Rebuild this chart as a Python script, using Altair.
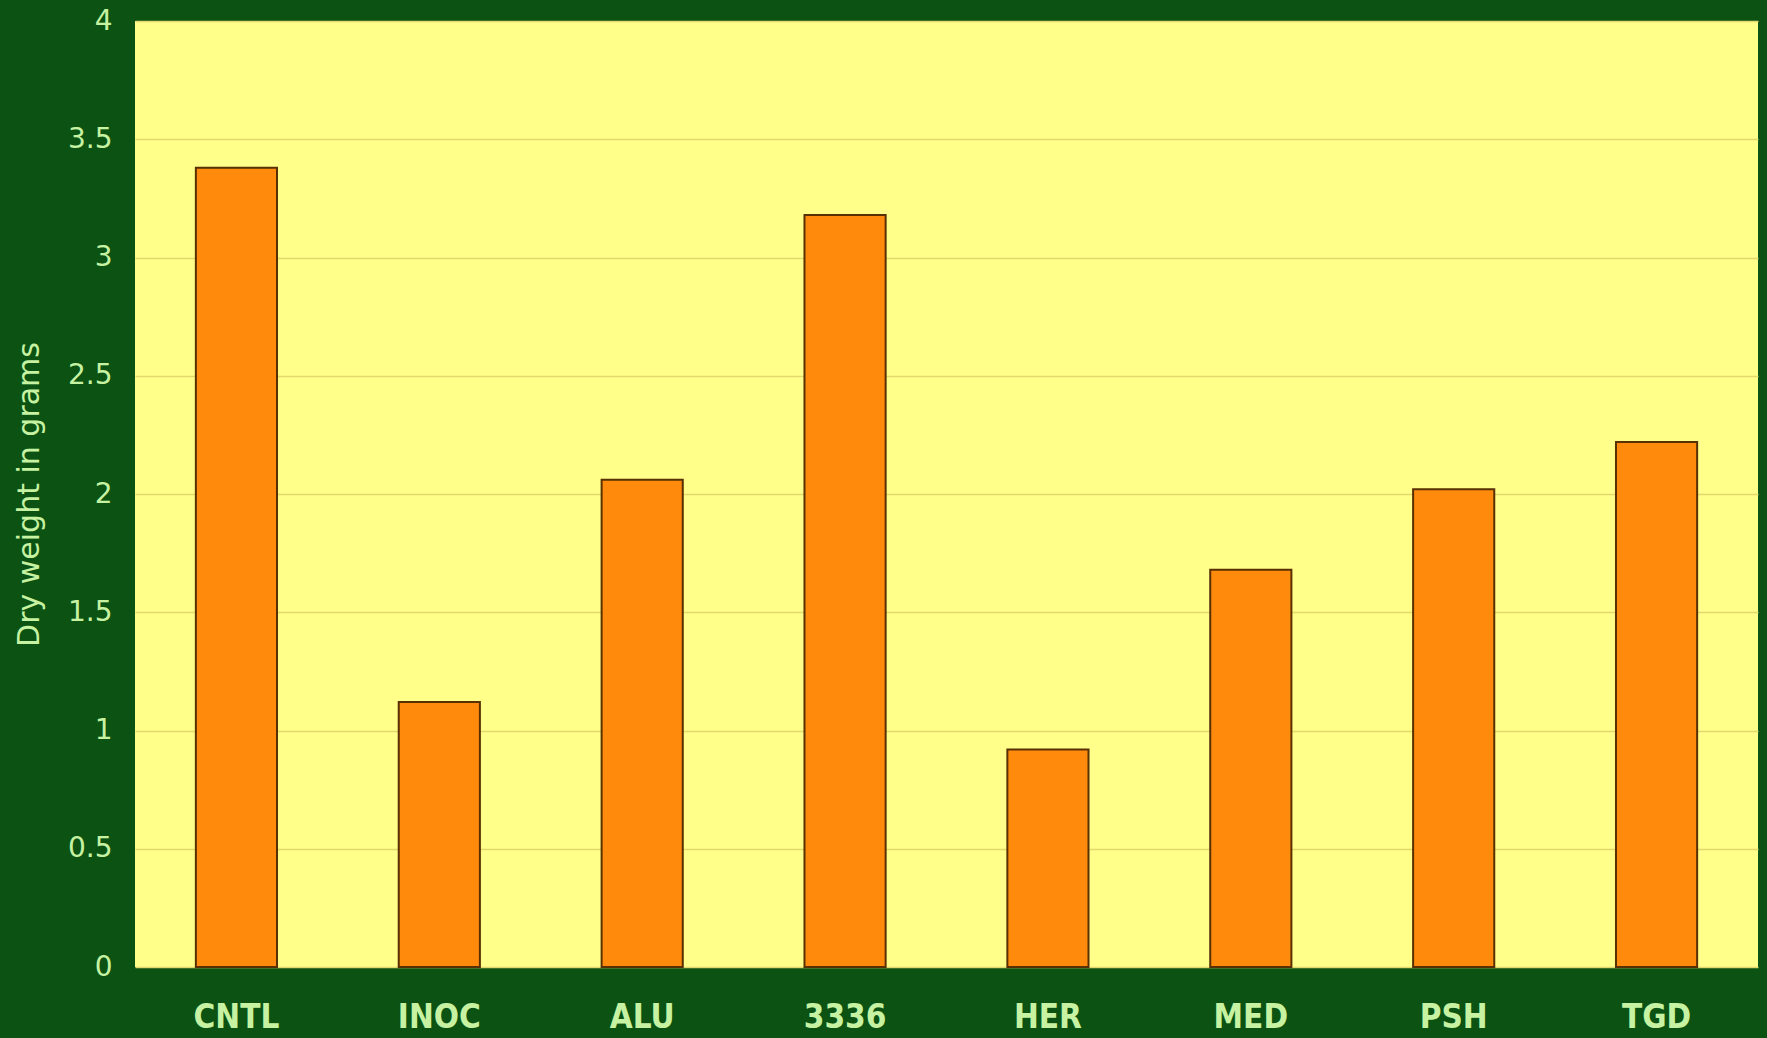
import altair as alt
import pandas as pd

# Dry weight per treatment
treatments = ["CNTL", "INOC", "ALU", "3336", "HER", "MED", "PSH", "TGD"]
dry_weight = [3.38, 1.12, 2.06, 3.18, 0.92, 1.68, 2.02, 2.22]
y_ticks = [0, 0.5, 1, 1.5, 2, 2.5, 3, 3.5, 4]

df = pd.DataFrame({"treatment": treatments, "weight": dry_weight})

BG = "#0b5213"
PLOT = "#ffff8a"
TEXT = "#c6f2a2"
FONT = "DejaVu Sans"
FONT_NARROW = "DejaVu Sans Condensed"

bars = alt.Chart(df).mark_bar(
    color="#ff8a0c", stroke="#583004", strokeWidth=2
).encode(
    x=alt.X(
        "treatment:N",
        sort=treatments,
        scale=alt.Scale(paddingInner=0.6, paddingOuter=0.3),
        axis=alt.Axis(
            title=None, labelAngle=0, labelFontSize=33, labelColor=TEXT,
            labelFont=FONT_NARROW, labelFontWeight="bold", labelPadding=34,
            ticks=False, domain=False, grid=False,
        ),
    ),
    y=alt.Y(
        "weight:Q",
        scale=alt.Scale(domain=[0, 4], nice=False),
        axis=alt.Axis(
            title="Dry weight in grams", titleFontSize=30, titleColor=TEXT,
            titleFont=FONT, titleFontWeight="normal",
            titleX=-106, titleY=473, titleAngle=-90, titleBaseline="middle",
            titleAlign="center",
            values=y_ticks, format="~g", labelFontSize=28, labelColor=TEXT,
            labelFont=FONT, labelPadding=23, ticks=False, domain=False,
            grid=True, gridColor="#e2d86e", gridWidth=1.5,
        ),
    ),
).properties(width=1623, height=946)

chart = bars.configure(
    background=BG,
    autosize=alt.AutoSizeParams(type="none"),
    padding={"left": 135, "top": 21, "right": 9, "bottom": 71},
).configure_view(fill=PLOT, stroke=None)

chart.save("out.html", embed_options={"renderer": "svg", "actions": False})
